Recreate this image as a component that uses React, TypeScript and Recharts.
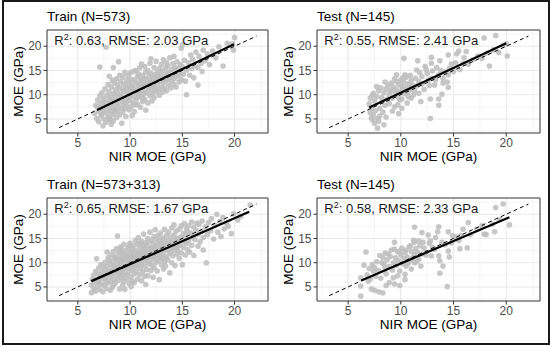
import React from 'react';
import { ScatterChart, Scatter, XAxis, YAxis, CartesianGrid, ReferenceArea } from 'recharts';

// ---------- axis / tick settings ----------
const xTicks = [5, 10, 15, 20];
const yTicks = [5, 10, 15, 20];
const minorTicks = [2.5, 7.5, 12.5, 17.5, 22.5];
const xDomain: [number, number] = [2.05, 23.2];
const yDomain: [number, number] = [2.1, 23.35];

// ---------- panel texts ----------
const panelTitles = ['Train (N=573)', 'Test (N=145)', 'Train (N=573+313)', 'Test (N=145)'];
const r2Values = ['0.63', '0.55', '0.65', '0.58'];
const rmseValues = ['2.03', '2.41', '1.67', '2.33'];
const xAxisTitle = 'NIR MOE (GPa)';
const yAxisTitle = 'MOE (GPa)';

// ---------- 1:1 line and fitted lines ----------
const identityLine: [number, number][] = [[3.2, 3.2], [22.1, 22.1]];
const fitTrain1: [number, number][] = [[6.85, 6.85], [19.95, 20.4]];
const fitTest1: [number, number][] = [[7.0, 7.35], [20.0, 20.6]];
const fitTrain2: [number, number][] = [[6.3, 6.2], [21.4, 20.5]];
const fitTest2: [number, number][] = [[6.25, 6.35], [20.3, 19.4]];

// ---------- points ----------
const train1: [number, number][] = [
  [6.6,6.2],[6.7,7.8],[6.8,5.1],[6.9,8.9],[7.0,6.6],[7.0,4.4],[7.1,9.8],[7.1,7.3],[7.2,5.6],[7.2,8.1],
  [7.3,6.0],[7.3,10.4],[7.4,3.6],[7.4,7.0],[7.4,8.7],[7.5,5.0],[7.5,9.3],[7.5,6.5],[6.9,7.4],[7.1,15.7],
  [7.6,7.6],[7.6,11.2],[7.7,4.3],[7.7,8.4],[7.7,19.8],[7.8,6.1],[7.8,9.9],[7.9,7.1],[7.9,12.1],[8.0,5.4],
  [8.0,8.8],[8.0,10.6],[8.1,6.7],[8.1,9.4],[8.1,4.8],[8.2,11.6],[8.2,7.9],[8.3,5.9],[8.3,9.0],[8.3,13.0],
  [8.4,15.6],[8.4,7.3],[8.4,10.2],[8.5,6.3],[8.5,8.5],[8.5,12.4],[8.2,3.9],[7.9,5.0],[8.0,13.8],[8.4,4.6],
  [8.6,9.7],[8.6,7.0],[8.6,11.0],[8.7,5.3],[8.7,8.2],[8.7,13.3],[8.8,10.4],[8.8,6.6],[8.8,12.0],[8.9,16.8],
  [8.9,9.1],[8.9,7.6],[9.0,11.4],[9.0,5.8],[9.0,14.0],[9.1,8.6],[9.1,10.0],[9.1,12.7],[9.2,4.1],[9.2,7.2],
  [9.2,9.5],[9.3,11.0],[9.3,6.4],[9.3,13.6],[9.4,8.0],[9.4,10.7],[9.4,12.2],[9.5,9.0],[9.5,7.1],[9.5,14.6],
  [9.6,11.7],[9.6,8.4],[9.6,5.5],[9.7,10.2],[9.7,12.9],[9.7,7.7],[9.8,9.4],[9.8,13.9],[9.8,11.1],[9.9,6.9],
  [9.9,10.0],[9.9,12.3],[10.0,8.8],[10.0,14.5],[10.0,11.5],[10.1,9.9],[10.1,7.5],[10.1,13.2],[10.2,5.7],[10.2,10.8],
  [10.2,12.0],[10.3,8.3],[10.3,11.4],[10.3,14.8],[10.4,9.6],[10.4,13.0],[10.5,15.0],[10.5,10.5],[10.5,7.9],[10.4,6.5],
  [10.6,12.4],[10.6,9.1],[10.7,11.0],[10.7,13.7],[10.7,8.0],[10.8,10.2],[10.8,14.3],[10.8,12.0],[10.9,9.6],[10.9,15.5],
  [11.0,11.5],[11.0,7.4],[11.0,13.1],[11.1,10.7],[11.1,12.6],[11.2,9.5],[11.2,14.0],[11.2,8.6],[11.3,11.9],[11.3,13.4],
  [11.3,10.1],[11.4,15.8],[11.4,12.2],[11.4,9.0],[11.5,11.1],[11.5,14.7],[11.5,6.8],[11.1,16.3],
  [11.6,13.0],[11.6,10.4],[11.7,12.1],[11.7,15.0],[11.7,8.3],[11.8,11.4],[11.8,13.8],[11.9,9.8],[11.9,12.6],[11.9,16.5],
  [12.0,11.0],[12.0,14.4],[12.1,12.9],[12.1,10.2],[12.1,8.7],[12.2,13.5],[12.2,11.7],[12.3,15.6],[12.3,12.3],[12.3,9.4],
  [12.4,14.1],[12.4,11.2],[12.5,13.0],[12.5,16.9],[12.5,10.6],[12.0,17.4],
  [12.6,12.2],[12.6,14.7],[12.7,11.0],[12.7,13.6],[12.8,15.4],[12.8,9.9],[12.9,12.8],[12.9,14.2],[13.0,11.6],[13.0,16.2],
  [13.0,13.3],[13.1,10.5],[13.1,14.9],[13.2,12.4],[13.2,17.2],[13.3,13.8],[13.3,11.3],[13.4,15.5],[13.4,12.9],[13.5,14.3],
  [13.5,10.8],[13.5,16.6],
  [13.6,13.2],[13.6,15.9],[13.7,12.0],[13.7,14.6],[13.8,17.6],[13.9,13.7],[13.9,11.4],[14.0,15.2],[14.0,12.8],[14.1,16.4],
  [14.1,14.0],[14.2,12.2],[14.2,17.9],[14.3,15.6],[14.3,13.4],[14.4,14.8],[14.4,11.6],[14.5,16.8],
  [14.6,13.9],[14.6,15.4],[14.7,12.6],[14.8,16.2],[14.8,14.4],[14.9,19.6],[14.9,13.1],[15.0,20.3],[15.0,15.8],[15.1,14.2],
  [15.2,17.1],[15.3,12.8],[15.4,10.0],[15.4,15.1],
  [15.6,16.6],[15.7,14.0],[15.8,18.2],[15.9,15.4],[16.0,17.3],[16.1,13.5],[16.2,16.0],[16.3,18.8],[16.5,12.0],[16.5,15.6],
  [16.6,17.9],[16.8,16.5],[16.9,14.8],[17.0,19.2],
  [17.2,17.0],[17.4,18.4],[17.6,16.2],[17.9,19.0],[18.2,17.6],[18.5,19.9],[18.9,15.9],[19.3,20.6],[19.9,19.2],[20.0,21.8],
  [19.8,20.5],
];

const test1: [number, number][] = [
  [19.0,22.2],[17.9,21.7],[20.1,18.0],[18.4,15.9],[16.4,16.3],[15.3,18.4],[14.5,18.2],[12.9,17.7],[12.9,16.5],[10.3,17.5],
  [11.6,17.0],[13.7,17.0],[12.3,15.8],[11.5,15.1],[14.8,16.3],[15.9,16.5],[10.4,14.1],[10.2,13.5],[9.6,14.1],[9.6,12.7],
  [8.5,12.6],[7.7,11.7],[7.4,10.3],[7.1,9.3],[7.2,7.2],[7.4,5.8],[7.8,5.1],[7.8,3.1],[7.5,4.1],[8.0,7.2],
  [8.2,8.6],[8.9,10.0],[9.1,11.0],[10.1,11.7],[10.7,10.6],[11.2,10.0],[11.0,9.3],[9.9,8.9],[9.7,7.9],[10.1,7.2],
  [9.4,7.5],[12.8,9.1],[13.6,9.1],[13.6,7.8],[12.8,5.1],[13.2,12.0],[14.0,12.4],[14.5,11.5],[14.0,13.4],[14.5,14.1],
  [12.5,14.4],[11.7,12.7],[12.0,13.7],[11.0,13.0],[12.9,13.4],[13.6,14.1],
  [7.0,8.1],[7.1,6.3],[7.3,9.9],[7.3,4.9],[7.5,8.7],[7.6,6.7],[7.7,9.6],[7.9,10.8],[8.0,5.6],[8.1,11.4],
  [8.2,9.4],[8.3,6.4],[8.4,10.4],[8.5,7.8],[8.6,11.2],[8.7,9.0],[8.8,12.0],[8.9,8.2],[9.0,10.6],[9.1,12.4],
  [9.2,9.3],[9.3,11.6],[9.4,13.3],[9.5,10.2],[9.6,11.0],[9.7,9.6],[9.8,12.1],[9.9,10.5],[10.0,13.0],[10.1,9.1],
  [10.2,11.1],[10.3,12.5],[10.4,10.2],[10.5,13.6],[10.6,11.6],[10.7,9.6],[10.8,12.3],[10.9,14.0],[11.0,11.2],[11.1,12.0],
  [11.3,10.8],[11.4,13.4],[11.5,11.8],[11.7,10.3],[11.8,14.6],[12.0,12.2],[12.2,11.1],[12.4,15.2],[12.6,13.0],[12.7,11.9],
  [13.0,14.9],[13.3,13.1],[13.4,15.6],[13.8,15.0],[14.2,14.7],[14.6,15.4],[15.0,14.8],[15.2,16.6],[15.6,15.2],[16.0,17.6],
  [16.8,17.2],[17.3,18.0],[17.7,17.5],[18.2,18.6],[18.8,19.3],[19.3,18.7],[19.7,20.2],[20.0,20.5],[16.2,18.9],[15.5,19.0],
  [14.4,12.6],[13.9,10.1],[11.9,8.6],[10.6,8.3],[9.2,6.6],[8.6,5.4],[7.9,4.5],[8.4,3.8],[7.2,5.2],[9.8,6.1],
];

const train2: [number, number][] = [
  [6.3,3.8],[6.3,5.4],[6.4,6.6],[6.5,4.6],[6.5,7.4],[6.6,5.9],[6.7,8.2],[6.7,4.1],[6.8,10.8],[6.8,6.4],
  [6.9,7.7],[6.9,5.1],[7.0,8.9],[7.0,6.0],[7.1,4.4],[7.1,7.1],[7.2,9.6],[7.2,5.6],[7.3,8.0],[7.3,6.7],
  [7.4,4.0],[7.4,9.2],
  [7.5,7.4],[7.5,5.3],[7.6,8.6],[7.6,10.1],[7.7,6.2],[7.7,4.7],[7.8,9.3],[7.8,7.8],[7.9,11.0],[7.9,5.8],
  [8.0,8.3],[8.0,6.9],[8.0,10.5],[8.1,4.3],[8.1,9.7],[8.2,7.4],[8.2,11.6],[8.2,6.1],[8.3,8.9],[8.3,10.2],
  [8.4,5.4],[8.4,7.8],[8.4,12.3],[8.5,9.4],[8.5,6.6],[7.8,12.2],[8.1,8.0],[7.6,6.8],[8.3,4.9],[8.5,10.9],
  [8.6,8.3],[8.6,11.2],[8.6,5.8],[8.7,9.9],[8.7,7.1],[8.7,12.9],[8.8,15.5],[8.8,8.8],[8.8,10.6],[8.9,6.4],
  [8.9,11.8],[8.9,9.3],[9.0,7.6],[9.0,12.4],[9.0,4.6],[9.1,10.2],[9.1,8.1],[9.1,13.3],[9.2,6.9],[9.2,11.1],
  [9.2,9.6],[9.3,5.4],[9.3,12.0],[9.3,8.6],[9.4,10.7],[9.4,7.4],[9.4,13.8],[9.5,9.1],[9.5,11.6],[9.5,4.5],
  [9.0,10.8],[9.2,12.8],[8.9,7.9],[9.4,6.2],
  [9.6,10.3],[9.6,8.0],[9.6,12.5],[9.7,6.7],[9.7,11.1],[9.7,9.4],[9.8,13.0],[9.8,7.5],[9.8,10.7],[9.9,11.7],
  [9.9,8.8],[9.9,5.7],[10.0,12.2],[10.0,9.9],[10.0,14.0],[10.1,7.1],[10.1,10.9],[10.1,8.4],[10.2,12.8],[10.2,9.5],
  [10.2,6.2],[10.3,11.4],[10.3,13.5],[10.3,8.9],[10.4,10.3],[10.4,7.7],[10.4,12.0],[10.5,14.6],[10.5,9.2],[10.5,11.0],
  [9.9,13.6],[10.1,5.1],[10.4,5.9],[9.6,9.1],[10.0,11.3],[10.3,10.0],
  [10.6,12.6],[10.6,8.2],[10.7,10.7],[10.7,13.8],[10.7,6.6],[10.8,11.6],[10.8,9.4],[10.8,15.2],[10.9,12.1],[10.9,7.5],
  [10.9,10.1],[11.0,13.2],[11.0,8.8],[11.0,11.3],[11.1,14.4],[11.1,9.7],[11.1,6.3],[11.2,12.4],[11.2,10.6],[11.2,8.1],
  [11.3,13.6],[11.3,11.0],[11.3,15.9],[11.4,9.3],[11.4,12.8],[11.4,7.2],[11.5,5.5],[11.5,10.4],[11.5,14.1],[10.6,10.0],
  [11.0,12.0],[11.2,11.5],[10.9,14.0],[11.4,11.8],
  [11.6,12.2],[11.6,8.6],[11.6,13.5],[11.7,10.9],[11.7,15.0],[11.7,7.3],[11.8,11.9],[11.8,9.8],[11.8,14.3],[11.9,12.7],
  [11.9,10.3],[11.9,16.3],[12.0,13.1],[12.0,8.4],[12.0,11.4],[12.1,14.7],[12.1,9.5],[12.1,12.3],[12.2,10.8],[12.2,13.9],
  [12.2,7.0],[12.3,12.0],[12.3,15.4],[12.3,9.0],[12.4,11.2],[12.4,13.3],[12.4,16.8],[12.5,10.1],[12.5,12.6],[12.5,14.9],
  [11.9,11.3],[12.2,12.9],
  [12.6,11.6],[12.6,8.3],[12.6,13.8],[12.7,15.6],[12.7,10.4],[12.8,12.4],[12.8,14.5],[12.8,6.5],[12.9,11.1],[12.9,13.2],
  [12.9,16.1],[13.0,9.6],[13.0,12.0],[13.0,14.0],[13.1,10.8],[13.1,15.1],[13.1,12.9],[13.2,8.7],[13.2,13.6],[13.2,11.5],
  [13.3,14.8],[13.3,10.2],[13.3,16.9],[13.4,12.5],[13.4,9.3],[13.5,13.9],[13.5,11.2],[13.5,15.7],
  [13.6,12.8],[13.6,10.6],[13.7,14.5],[13.7,16.3],[13.8,11.9],[13.8,13.4],[13.8,7.9],[13.9,15.2],[13.9,12.3],[14.0,10.0],
  [14.0,14.1],[14.0,17.2],[14.1,13.0],[14.1,11.4],[14.2,15.7],[14.2,12.6],[14.3,14.6],[14.3,9.4],[14.4,13.5],[14.4,16.5],
  [14.5,11.8],[14.5,15.0],[14.5,13.1],[14.2,17.8],
  [14.6,14.2],[14.6,12.4],[14.7,16.9],[14.7,10.9],[14.8,15.3],[14.8,13.6],[14.9,17.6],[14.9,12.0],[15.0,14.8],[15.0,9.6],
  [15.1,16.0],[15.1,13.2],[15.2,18.1],[15.2,14.4],[15.3,11.6],[15.3,15.6],[15.4,17.0],[15.4,13.9],[15.5,12.7],[15.5,16.4],
  [15.6,17.6],[15.6,14.5],[15.7,12.2],[15.8,16.1],[15.9,18.4],[15.9,13.6],[16.0,15.3],[16.1,17.3],[16.1,11.5],[16.2,14.8],
  [16.3,16.7],[16.4,18.2],[16.5,13.4],[16.5,15.9],[16.6,17.9],[16.7,14.3],[16.8,16.5],[16.9,18.6],[17.0,15.2],[17.0,12.6],
  [17.2,17.4],[17.3,10.0],[17.4,15.8],[17.5,18.3],[17.7,16.6],[17.8,19.1],[18.0,14.9],[18.1,17.7],[18.3,20.0],[18.4,16.3],
  [18.6,18.5],[18.9,19.3],[19.0,17.0],[18.7,15.4],
  [19.2,18.2],[19.4,17.5],[19.7,16.0],[19.9,20.1],[20.3,18.8],[20.6,19.6],[21.5,21.9],
];

const test2: [number, number][] = [
  [19.0,21.4],[19.7,22.1],[20.3,17.8],[18.9,16.4],[17.9,15.9],[16.3,13.1],[16.4,18.3],[15.7,15.6],[15.6,12.9],[14.5,12.4],
  [14.6,11.2],[14.5,16.4],[14.9,15.6],[13.6,17.4],[13.5,16.4],[12.6,15.7],[12.8,14.5],[13.2,12.8],[13.6,11.4],[13.7,10.4],
  [14.0,9.3],[13.7,7.8],[14.4,5.1],[11.3,17.3],[11.3,14.2],[10.9,13.5],[10.4,12.1],[9.9,12.4],[9.4,14.2],[9.4,12.8],
  [8.8,11.8],[8.3,11.1],[8.2,10.0],[8.5,9.0],[7.5,9.0],[7.4,8.3],[6.7,12.2],[6.5,9.5],[6.2,6.9],[6.2,5.2],
  [6.2,3.1],[6.9,6.2],[7.5,4.3],[7.9,4.0],[8.3,3.8],[8.6,5.3],[9.3,6.9],[9.4,5.6],[9.9,5.3],[9.7,7.3],
  [10.4,7.6],[10.5,9.3],[11.0,8.7],[11.3,10.0],[11.7,10.7],[12.0,11.8],[11.3,11.8],[11.8,13.5],[12.1,14.2],[11.7,14.5],
  [6.8,7.5],[7.0,8.8],[7.1,6.6],[7.3,9.6],[7.6,7.2],[7.7,10.2],[7.9,8.4],[8.0,11.5],[8.1,6.8],[8.4,9.8],
  [8.5,12.0],[8.6,7.7],[8.7,10.6],[8.9,9.2],[9.0,11.3],[9.1,12.6],[9.2,8.5],[9.3,10.0],[9.5,11.0],[9.6,9.5],
  [9.7,12.2],[9.8,10.4],[9.9,8.3],[10.0,11.6],[10.1,13.0],[10.2,9.8],[10.3,10.9],[10.5,12.6],[10.6,11.2],[10.7,9.9],
  [10.8,13.3],[10.9,10.5],[11.0,12.3],[11.1,11.0],[11.2,14.6],[11.4,12.9],[11.5,10.2],[11.6,12.1],[11.9,9.3],[12.2,13.0],
  [12.4,11.6],[12.7,14.0],[13.0,13.2],[13.3,15.2],[13.9,14.2],[14.2,13.7],[14.8,14.1],[15.2,15.3],[15.5,14.6],[15.9,16.9],
  [16.6,15.8],[17.2,16.9],[17.7,17.6],[18.1,15.8],[18.7,18.0],[19.4,18.9],[12.0,16.2],[12.9,11.4],[10.4,6.5],[8.9,5.9],
  [7.2,4.6],
];

const toPts = (a: [number, number][]) => a.map(([x, y]) => ({ x, y }));

const FONT = '"Liberation Sans", Arial, Helvetica, sans-serif';

const Dot = (p: any) => (
  <circle cx={p.cx} cy={p.cy} r={2.8} fill="#bdbdbd" fillOpacity={0.85} />
);
const NoDot = () => <g />;

type PanelProps = {
  left: number;
  top: number;
  yAxisWidth: number;
  rightMargin: number;
  idx: number;
  points: [number, number][];
  fit: [number, number][];
};

function Panel({ left, top, yAxisWidth, rightMargin, idx, points, fit }: PanelProps) {
  const W = 275;
  const H = 173;
  const plotTop = 30;
  const plotH = 103;
  const plotLeft = yAxisWidth;
  const plotW = W - yAxisWidth - rightMargin;
  return (
    <div style={{ position: 'absolute', left, top, width: W, height: H }}>
      <ScatterChart width={W} height={H} margin={{ top: plotTop, right: rightMargin, bottom: 0, left: 0 }}>
        <CartesianGrid
          horizontalValues={minorTicks}
          verticalValues={minorTicks}
          stroke="#f1f1f1"
          strokeWidth={0.7}
        />
        <CartesianGrid
          horizontalValues={yTicks}
          verticalValues={xTicks}
          stroke="#e9e9e9"
          strokeWidth={1.1}
        />
        <XAxis
          type="number"
          dataKey="x"
          domain={xDomain}
          ticks={xTicks}
          interval={0}
          allowDataOverflow
          height={H - plotTop - plotH}
          axisLine={false}
          tickSize={3.5}
          tickMargin={2}
          tickLine={{ stroke: '#333' }}
          tick={{ fill: '#4d4d4d', fontSize: 12 }}
        />
        <YAxis
          type="number"
          dataKey="y"
          domain={yDomain}
          ticks={yTicks}
          interval={0}
          allowDataOverflow
          width={yAxisWidth}
          axisLine={false}
          tickSize={3.5}
          tickMargin={2}
          tickLine={{ stroke: '#333' }}
          tick={{ fill: '#4d4d4d', fontSize: 12 }}
        />
        <ReferenceArea
          x1={xDomain[0]}
          x2={xDomain[1]}
          y1={yDomain[0]}
          y2={yDomain[1]}
          fill="none"
          fillOpacity={0}
          stroke="#333"
          strokeWidth={1}
        />
        <Scatter data={toPts(points)} shape={Dot} isAnimationActive={false} />
        <Scatter
          data={toPts(identityLine)}
          line={{ stroke: '#000', strokeWidth: 1, strokeDasharray: '4 3' }}
          shape={NoDot}
          isAnimationActive={false}
        />
        <Scatter
          data={toPts(fit)}
          line={{ stroke: '#000', strokeWidth: 2.2 }}
          shape={NoDot}
          isAnimationActive={false}
        />
      </ScatterChart>
      <svg
        width={W}
        height={H}
        style={{ position: 'absolute', left: 0, top: 0, pointerEvents: 'none', fontFamily: FONT }}
      >
        <text x={plotLeft} y={21} fontSize={13.5} fill="#000">
          {panelTitles[idx]}
        </text>
        <text x={plotLeft + 7.3} y={plotTop + 15} fontSize={13} fill="#1a1a1a">
          R
          <tspan dy={-5} fontSize={9}>2</tspan>
          <tspan dy={5}>{`: ${r2Values[idx]}, RMSE: ${rmseValues[idx]} GPa`}</tspan>
        </text>
        <text x={plotLeft + plotW / 2} y={161.3} textAnchor="middle" fontSize={13.5} fill="#000">
          {xAxisTitle}
        </text>
        <text
          transform={`translate(${yAxisWidth - 28.5}, ${plotTop + plotH / 2}) rotate(-90)`}
          textAnchor="middle"
          dominantBaseline="central"
          fontSize={13.5}
          fill="#000"
        >
          {yAxisTitle}
        </text>
      </svg>
    </div>
  );
}

export default function App() {
  return (
    <div
      style={{
        position: 'absolute',
        left: 0,
        top: 0,
        width: 550,
        height: 346,
        background: '#fff',
        fontFamily: FONT,
        overflow: 'hidden',
      }}
    >
      <Panel left={0} top={0} yAxisWidth={47} rightMargin={7} idx={0} points={train1} fit={fitTrain1} />
      <Panel left={275} top={0} yAxisWidth={42} rightMargin={10} idx={1} points={test1} fit={fitTest1} />
      <Panel left={0} top={168} yAxisWidth={47} rightMargin={7} idx={2} points={train2} fit={fitTrain2} />
      <Panel left={275} top={168} yAxisWidth={42} rightMargin={10} idx={3} points={test2} fit={fitTest2} />
      <div
        style={{
          position: 'absolute',
          left: 2,
          top: 0,
          width: 548,
          height: 345,
          border: '2px solid #1a1a1a',
          boxSizing: 'border-box',
          pointerEvents: 'none',
        }}
      />
    </div>
  );
}
